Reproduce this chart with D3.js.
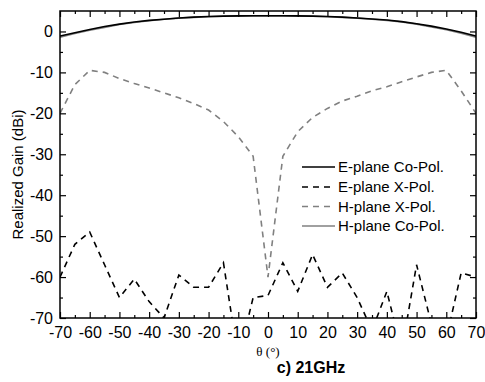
<!DOCTYPE html>
<html>
<head>
<meta charset="utf-8">
<script src="https://cdn.jsdelivr.net/npm/d3@7"></script>
<style>
  html, body { margin: 0; padding: 0; background: #fff; }
  svg { display: block; font-family: "Liberation Sans", Arial, sans-serif; }
</style>
</head>
<body>
<div id="chart"></div>
<script>
// angles (deg), 5 degree steps
const theta = [-70, -65, -60, -55, -50, -45, -40, -35, -30, -25, -20, -15, -10, -5, 0,
               5, 10, 15, 20, 25, 30, 35, 40, 45, 50, 55, 60, 65, 70];

// realized gain (dBi)
const eCoPol = [-1.1, -0.3, 0.5, 1.2, 1.8, 2.3, 2.7, 3.0, 3.3, 3.5, 3.65, 3.75, 3.8, 3.85, 3.85,
                3.85, 3.8, 3.75, 3.65, 3.5, 3.3, 3.05, 2.8, 2.4, 1.9, 1.3, 0.6, -0.2, -1.1];
const hCoPol = [-1.4, -0.5, 0.3, 1.0, 1.7, 2.2, 2.6, 3.0, 3.25, 3.45, 3.6, 3.7, 3.75, 3.8, 3.8,
                3.8, 3.75, 3.7, 3.6, 3.45, 3.25, 3.0, 2.7, 2.3, 1.8, 1.1, 0.4, -0.4, -1.4];
const eXPol = [-60, -52, -49, -57, -65, -60.5, -66, -70, -59.5, -62.5, -62.5, -56.5, -80, -65, -64.5,
               -56.5, -63.5, -54.5, -62.5, -59, -65, -73, -63.5, -78, -57, -71.5, -75, -59, -60];
const hXPol = [-20, -13, -9.5, -10, -11.5, -12.7, -13.8, -15, -16.2, -17.6, -19.2, -22, -25.7, -30.5, -60,
               -30.5, -24.5, -21, -18.8, -17, -15.8, -14.5, -13.5, -12.3, -11.1, -10, -9.5, -14.5, -20];

const seriesNames = ["E-plane Co-Pol.", "E-plane X-Pol.", "H-plane X-Pol.", "H-plane Co-Pol."];
const xTicks = d3.range(-70, 71, 10);
const yTicks = d3.range(-70, 1, 10);

const W = 485, H = 382;
const plotL = 60, plotR = 476, plotT = 11, plotB = 318;

const svg = d3.select("#chart").append("svg")
    .attr("width", W)
    .attr("height", H);

const x = d3.scaleLinear().domain([-70, 70]).range([plotL, plotR]);
const y = d3.scaleLinear().domain([-70, 5]).range([plotB, plotT]);

// plain hyphen for negative labels, as in the original figure
const fmt = d => String(d);

svg.append("defs").append("clipPath").attr("id", "clip")
    .append("rect")
    .attr("x", plotL).attr("y", plotT)
    .attr("width", plotR - plotL).attr("height", plotB - plotT);

// series styles
const series = [
    { name: seriesNames[0], values: eCoPol, color: "#000", dash: null, width: 1.6 },
    { name: seriesNames[1], values: eXPol, color: "#000", dash: "6,5", width: 1.6 },
    { name: seriesNames[2], values: hXPol, color: "#808080", dash: "6,5", width: 1.6 },
    { name: seriesNames[3], values: hCoPol, color: "#808080", dash: null, width: 1.6 }
];

const line = d3.line()
    .x((d, i) => x(theta[i]))
    .y(d => y(d));

const plot = svg.append("g").attr("clip-path", "url(#clip)");

// draw in order so the black co-pol sits on top of the gray one
[series[2], series[1], series[3], series[0]].forEach(s => {
    plot.append("path")
        .datum(s.values)
        .attr("fill", "none")
        .attr("stroke", s.color)
        .attr("stroke-width", s.width)
        .attr("stroke-dasharray", s.dash)
        .attr("d", line);
});

// --- axes, ticks inside on all four sides ---
const minorX = d3.range(-65, 70, 10);
const minorY = d3.range(-65, 5, 10);

const axisBottom = svg.append("g")
    .attr("transform", `translate(0,${plotB})`)
    .call(d3.axisBottom(x).tickValues(xTicks).tickFormat(fmt).tickSize(-6).tickPadding(9).tickSizeOuter(0))
    .call(g => g.select(".domain").remove());
axisBottom.selectAll("text").style("font-size", "16px").attr("fill", "#000");

svg.append("g")
    .attr("transform", `translate(0,${plotB})`)
    .call(d3.axisBottom(x).tickValues(minorX).tickSize(-3).tickFormat("").tickSizeOuter(0))
    .call(g => g.select(".domain").remove());

const axisLeft = svg.append("g")
    .attr("transform", `translate(${plotL},0)`)
    .call(d3.axisLeft(y).tickValues(yTicks).tickFormat(fmt).tickSize(-6).tickPadding(7).tickSizeOuter(0))
    .call(g => g.select(".domain").remove());
axisLeft.selectAll("text").style("font-size", "16px").attr("fill", "#000");

svg.append("g")
    .attr("transform", `translate(${plotL},0)`)
    .call(d3.axisLeft(y).tickValues(minorY).tickSize(-3).tickFormat("").tickSizeOuter(0))
    .call(g => g.select(".domain").remove());

// mirrored ticks on top and right
svg.append("g")
    .attr("transform", `translate(0,${plotT})`)
    .call(d3.axisTop(x).tickValues(xTicks).tickSize(-6).tickFormat("").tickSizeOuter(0))
    .call(g => g.select(".domain").remove());
svg.append("g")
    .attr("transform", `translate(0,${plotT})`)
    .call(d3.axisTop(x).tickValues(minorX).tickSize(-3).tickFormat("").tickSizeOuter(0))
    .call(g => g.select(".domain").remove());
svg.append("g")
    .attr("transform", `translate(${plotR},0)`)
    .call(d3.axisRight(y).tickValues(yTicks).tickSize(-6).tickFormat("").tickSizeOuter(0))
    .call(g => g.select(".domain").remove());
svg.append("g")
    .attr("transform", `translate(${plotR},0)`)
    .call(d3.axisRight(y).tickValues(minorY).tickSize(-3).tickFormat("").tickSizeOuter(0))
    .call(g => g.select(".domain").remove());

svg.selectAll(".tick line").attr("stroke", "#000").attr("stroke-width", 1.2);

// frame
svg.append("rect")
    .attr("x", plotL).attr("y", plotT)
    .attr("width", plotR - plotL).attr("height", plotB - plotT)
    .attr("fill", "none")
    .attr("stroke", "#000")
    .attr("stroke-width", 1.5);

// --- axis titles ---
svg.append("text")
    .attr("transform", `translate(18,${(plotT + plotB) / 2 + 10}) rotate(-90)`)
    .attr("text-anchor", "middle")
    .attr("dy", "0.35em")
    .style("font-size", "15px")
    .text("Realized Gain (dBi)");

svg.append("text")
    .attr("x", 268)
    .attr("y", 351)
    .attr("text-anchor", "middle")
    .attr("dy", "0.35em")
    .style("font-family", "'Liberation Serif', 'Times New Roman', serif")
    .style("font-size", "13px")
    .text("θ (°)");

svg.append("text")
    .attr("x", 311)
    .attr("y", 367)
    .attr("text-anchor", "middle")
    .attr("dy", "0.35em")
    .style("font-size", "16px")
    .style("font-weight", "bold")
    .text("c) 21GHz");

// --- legend ---
const legendY = [167, 187, 206.5, 226];
const legend = svg.append("g");
series.forEach((s, i) => {
    legend.append("line")
        .attr("x1", 302).attr("x2", 335)
        .attr("y1", legendY[i]).attr("y2", legendY[i])
        .attr("stroke", s.color)
        .attr("stroke-width", s.width)
        .attr("stroke-dasharray", s.dash);
    legend.append("text")
        .attr("x", 338)
        .attr("y", legendY[i])
        .attr("dy", "0.35em")
        .style("font-size", "15px")
        .text(s.name);
});
</script>
</body>
</html>
